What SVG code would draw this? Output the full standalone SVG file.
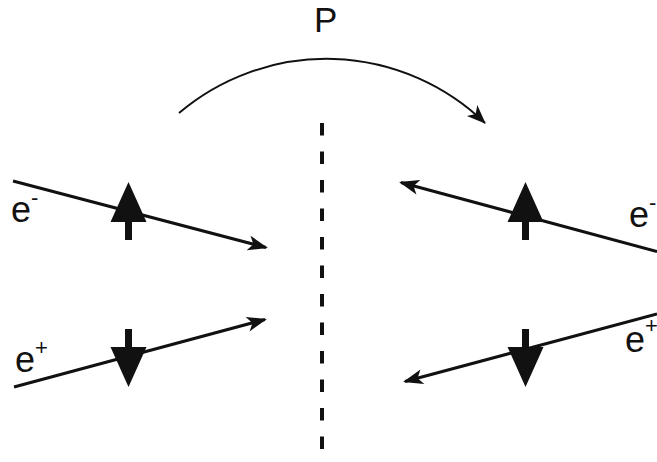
<svg xmlns="http://www.w3.org/2000/svg" width="657" height="462" viewBox="0 0 657 462">
<style>
.ln{stroke:#111;stroke-width:3;fill:none}
.arc{stroke:#111;stroke-width:2;fill:none}
.dash{stroke:#111;stroke-width:4;stroke-dasharray:12.5 16;fill:none}
.lbl{font-family:"Liberation Sans",Arial,sans-serif;fill:#111}
.spin{fill:#111}
</style>
<defs>
<marker id="ah" viewBox="-20 -10 24 20" refX="0" refY="0" markerWidth="24" markerHeight="20" markerUnits="userSpaceOnUse" orient="auto">
<path d="M2,0 L-18,-7.5 L-13,0 L-18,7.5 Z" fill="#111"/>
</marker>
<marker id="ah2" viewBox="-20 -10 24 20" refX="0" refY="0" markerWidth="24" markerHeight="20" markerUnits="userSpaceOnUse" orient="auto">
<path d="M1,0 L-18,-7.5 L-13,0 L-18,7.5 Z" fill="#111"/>
</marker>
<path id="spinShape" d="M0,0 L18,40 L3.5,40 L3.5,58 L-3.5,58 L-3.5,40 L-18,40 Z"/>
</defs>

<g id="connectors">
<path id="parity-arc" class="arc" d="M179,113 A228,228 0 0 1 485,123" marker-end="url(#ah2)"/>
<line id="mirror" class="dash" x1="322" y1="123" x2="322" y2="456"/>
<line id="left-electron-track" class="ln" x1="13" y1="181" x2="266" y2="247.5" marker-end="url(#ah)"/>
<line id="left-positron-track" class="ln" x1="14" y1="387" x2="265" y2="319.5" marker-end="url(#ah)"/>
<line id="right-electron-track" class="ln" x1="657" y1="251.5" x2="401" y2="182.5" marker-end="url(#ah)"/>
<line id="right-positron-track" class="ln" x1="657" y1="314" x2="405" y2="381.5" marker-end="url(#ah)"/>
</g>

<g id="label-P">
<text class="lbl" x="314" y="32" font-size="35">P</text>
</g>

<g id="left-electron">
<use href="#spinShape" class="spin" transform="translate(128.5,182)"/>
<text class="lbl" x="11" y="222" font-size="36">e<tspan font-size="22" dy="-17">-</tspan></text>
</g>

<g id="left-positron">
<use href="#spinShape" class="spin" transform="translate(128.5,387) scale(1,-1)"/>
<text class="lbl" x="15" y="372" font-size="36">e<tspan font-size="22" dy="-17">+</tspan></text>
</g>

<g id="right-electron">
<use href="#spinShape" class="spin" transform="translate(525.5,182)"/>
<text class="lbl" x="629" y="227" font-size="36">e<tspan font-size="22" dy="-17">-</tspan></text>
</g>

<g id="right-positron">
<use href="#spinShape" class="spin" transform="translate(525.5,387) scale(1,-1)"/>
<text class="lbl" x="625" y="352" font-size="36">e<tspan font-size="22" dy="-19">+</tspan></text>
</g>
</svg>
